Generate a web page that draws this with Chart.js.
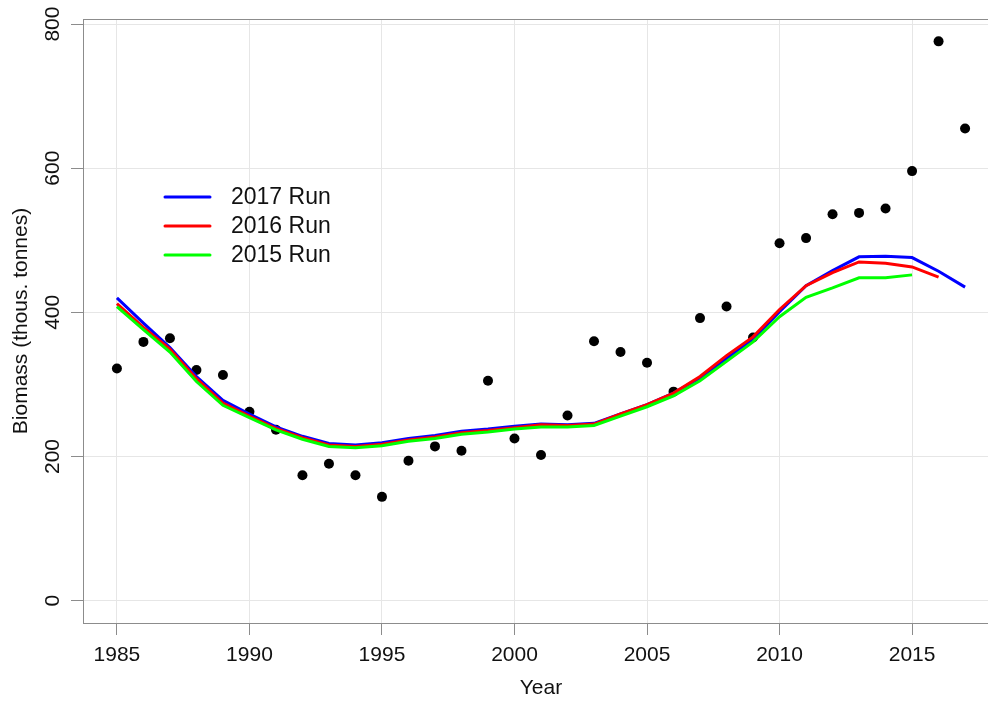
<!DOCTYPE html>
<html>
<head>
<meta charset="utf-8">
<script src="https://cdn.jsdelivr.net/npm/chart.js@4.4.1/dist/chart.umd.min.js"></script>
<style>
  html, body { margin: 0; padding: 0; overflow: hidden; background: #ffffff; }
  #wrap { width: 999px; height: 702px; }
</style>
</head>
<body>
<div id="wrap"><canvas id="c" width="999" height="702"></canvas></div>
<script>
// Survey years and biomass (thousand tonnes)
const years = [1985, 1986, 1987, 1988, 1989, 1990, 1991, 1992, 1993, 1994, 1995,
               1996, 1997, 1998, 1999, 2000, 2001, 2002, 2003, 2004, 2005, 2006,
               2007, 2008, 2009, 2010, 2011, 2012, 2013, 2014, 2015, 2016, 2017];

// Observed survey index (points)
const surveyBiomass = [322, 359, 364, 320, 313, 262, 237, 174, 190, 174, 144,
                       194, 214, 208, 305, 225, 202, 257, 360, 345, 330, 290,
                       392, 408, 365, 496, 503, 536, 538, 544, 596, 776, 655];

// Model fits from successive assessment runs
const run2017 = [420, 385, 351, 311, 278, 259, 241, 228, 218, 216, 219,
                 225, 229, 235, 238, 242, 245, 244, 246, 259, 272, 288,
                 309, 336, 363, 401, 437, 458, 477, 478, 476, 457, 435];
const run2016 = [412, 379, 349, 308, 274, 256, 239, 226, 216, 214, 217,
                 223, 227, 233, 236, 240, 244, 243, 245, 259, 272, 288,
                 311, 340, 366, 404, 437, 455, 470, 468, 463, 449];
const run2015 = [408, 376, 345, 304, 271, 254, 237, 224, 214, 212, 215,
                 221, 225, 231, 234, 238, 241, 241, 243, 256, 269, 284,
                 305, 332, 359, 394, 421, 434, 448, 448, 452];

const runLabels = ['2017 Run', '2016 Run', '2015 Run'];
const runColors = ['#0000ff', '#ff0000', '#00ff00'];

// Axis tick positions
const xTicks = [1985, 1990, 1995, 2000, 2005, 2010, 2015];
const yTicks = [0, 200, 400, 600, 800];

const FONT = '"Liberation Sans", Arial, Helvetica, sans-serif';

function toPoints(values) {
  return values.map((v, i) => ({ x: years[i], y: v }));
}

// Grey frame around the plotting region
const frame = {
  id: 'frame',
  beforeDatasetsDraw(chart) {
    const a = chart.chartArea, ctx = chart.ctx;
    ctx.save();
    ctx.strokeStyle = '#8c8c8c';
    ctx.lineWidth = 1;
    ctx.strokeRect(Math.round(a.left) + 0.5, Math.round(a.top) + 0.5,
                   Math.round(a.right - a.left) - 1, Math.round(a.bottom - a.top));
    ctx.restore();
  }
};

// Line legend placed inside the plot, upper left
const insetLegend = {
  id: 'insetLegend',
  afterDatasetsDraw(chart) {
    const ctx = chart.ctx;
    ctx.save();
    const x0 = 165, x1 = 210, tx = 231;
    const rows = [197, 226, 255];
    chart.data.datasets.filter(d => d.legendRow !== undefined).forEach(d => {
      const y = rows[d.legendRow];
      ctx.strokeStyle = d.borderColor;
      ctx.lineWidth = 3;
      ctx.lineCap = 'round';
      ctx.beginPath();
      ctx.moveTo(x0, y);
      ctx.lineTo(x1, y);
      ctx.stroke();
      ctx.fillStyle = '#111111';
      ctx.font = '23px ' + FONT;
      ctx.textAlign = 'left';
      ctx.textBaseline = 'middle';
      ctx.fillText(d.label, tx, y + 1);
    });
    ctx.restore();
  }
};

const lineStyle = {
  showLine: true,
  pointRadius: 0,
  pointHoverRadius: 0,
  borderWidth: 3,
  tension: 0,
  fill: false
};

new Chart(document.getElementById('c'), {
  type: 'scatter',
  data: {
    datasets: [
      {
        label: 'Survey',
        data: toPoints(surveyBiomass),
        showLine: false,
        pointRadius: 5,
        pointBackgroundColor: '#000000',
        pointBorderWidth: 0,
        order: 4
      },
      Object.assign({ label: runLabels[0], data: toPoints(run2017),
        borderColor: runColors[0], backgroundColor: runColors[0], order: 3, legendRow: 0 }, lineStyle),
      Object.assign({ label: runLabels[1], data: toPoints(run2016),
        borderColor: runColors[1], backgroundColor: runColors[1], order: 2, legendRow: 1 }, lineStyle),
      Object.assign({ label: runLabels[2], data: toPoints(run2015),
        borderColor: runColors[2], backgroundColor: runColors[2], order: 1, legendRow: 2 }, lineStyle)
    ]
  },
  options: {
    responsive: false,
    animation: false,
    devicePixelRatio: 1,
    layout: { autoPadding: false, padding: { top: 19, right: 0, left: 0, bottom: 0 } },
    plugins: {
      legend: { display: false },
      tooltip: { enabled: false }
    },
    scales: {
      x: {
        type: 'linear',
        min: 1983.72,
        max: 2018.28,
        afterBuildTicks(scale) { scale.ticks = xTicks.map(v => ({ value: v })); },
        afterFit(scale) {
          scale.height = 79;
          scale.paddingLeft = 0;
          scale.paddingRight = 0;
        },
        border: { display: false },
        grid: {
          color: '#e6e6e6',
          lineWidth: 1,
          drawTicks: true,
          tickLength: 12,
          tickColor: '#8c8c8c'
        },
        ticks: {
          color: '#111111',
          font: { family: FONT, size: 21 },
          padding: 8,
          maxRotation: 0,
          autoSkip: false,
          callback: v => String(v)
        },
        title: {
          display: true,
          text: 'Year',
          color: '#111111',
          font: { family: FONT, size: 21 },
          padding: { top: 0, bottom: 1 }
        }
      },
      y: {
        type: 'linear',
        min: -31.04,
        max: 807.04,
        afterBuildTicks(scale) { scale.ticks = yTicks.map(v => ({ value: v })); },
        afterFit(scale) {
          scale.width = 83;
          scale.paddingTop = 0;
          scale.paddingBottom = 0;
        },
        border: { display: false },
        grid: {
          color: '#e6e6e6',
          lineWidth: 1,
          drawTicks: true,
          tickLength: 12,
          tickColor: '#8c8c8c'
        },
        ticks: {
          color: '#111111',
          font: { family: FONT, size: 21 },
          padding: 0,
          minRotation: 90,
          maxRotation: 90,
          crossAlign: 'center',
          autoSkip: false,
          callback: v => String(v)
        },
        title: {
          display: true,
          text: 'Biomass (thous. tonnes)',
          color: '#111111',
          font: { family: FONT, size: 21 },
          padding: { top: 9, bottom: 0 }
        }
      }
    }
  },
  plugins: [frame, insetLegend]
});
</script>
</body>
</html>
